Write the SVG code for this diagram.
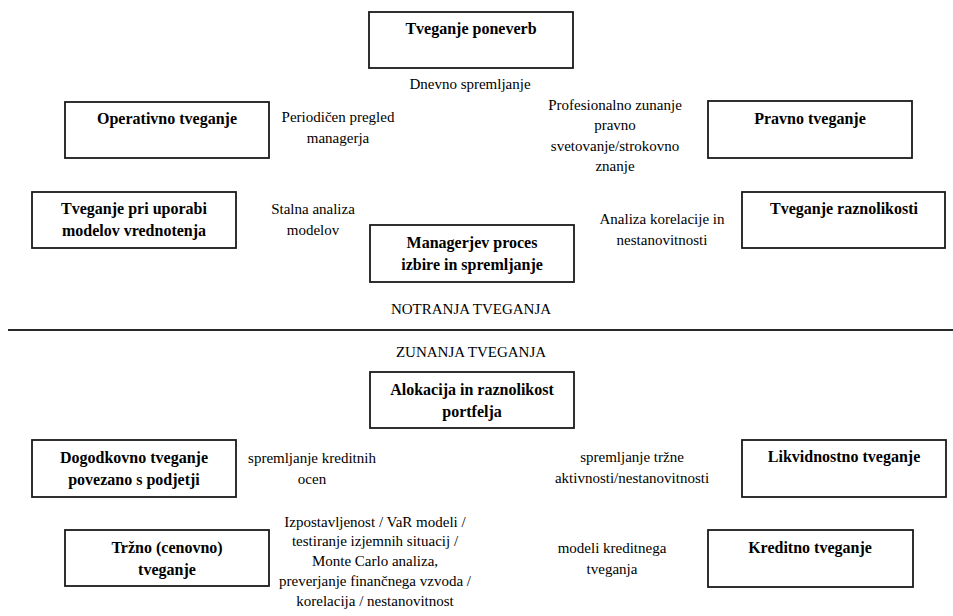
<svg xmlns="http://www.w3.org/2000/svg" width="953" height="616" viewBox="0 0 953 616" font-family="Liberation Serif, DejaVu Serif, Times New Roman, serif">
<style>
  .box{fill:#fff;stroke:#1a1a1a;stroke-width:1.8}
  .t{font-family:'Liberation Serif','DejaVu Serif','Times New Roman',serif;font-size:15px;fill:#000;text-anchor:middle}
  .b{font-weight:bold;font-size:16px}
  .h{font-size:15px}
</style>
<rect width="953" height="616" fill="#fff"/>
<g id="divider">
  <line x1="8" y1="330" x2="953" y2="330" stroke="#2a2a2a" stroke-width="2"/>
  <text class="t h" x="471" y="314">NOTRANJA TVEGANJA</text>
  <text class="t h" x="471" y="357">ZUNANJA TVEGANJA</text>
</g>
<g id="node-poneverbe">
  <rect class="box" x="369" y="12" width="204" height="56"/>
  <text class="t b" x="471" y="34">Tveganje poneverb</text>
</g>
<g id="node-operativno">
  <rect class="box" x="65" y="102" width="204" height="56"/>
  <text class="t b" x="167" y="124">Operativno tveganje</text>
</g>
<g id="node-pravno">
  <rect class="box" x="708" y="101" width="204" height="57"/>
  <text class="t b" x="810" y="124">Pravno tveganje</text>
</g>
<g id="node-modeli">
  <rect class="box" x="32" y="192" width="204" height="56"/>
  <text class="t b" x="134" y="214">Tveganje pri uporabi</text>
  <text class="t b" x="134" y="236">modelov vrednotenja</text>
</g>
<g id="node-raznolikost">
  <rect class="box" x="742" y="192" width="203" height="56"/>
  <text class="t b" x="844" y="214">Tveganje raznolikosti</text>
</g>
<g id="node-manager">
  <rect class="box" x="370" y="225" width="204" height="57"/>
  <text class="t b" x="472" y="248">Managerjev proces</text>
  <text class="t b" x="472" y="270">izbire in spremljanje</text>
</g>
<g id="node-alokacija">
  <rect class="box" x="370" y="372" width="204" height="56"/>
  <text class="t b" x="472" y="395">Alokacija in raznolikost</text>
  <text class="t b" x="472" y="417">portfelja</text>
</g>
<g id="node-dogodkovno">
  <rect class="box" x="32" y="440" width="204" height="57"/>
  <text class="t b" x="134" y="463">Dogodkovno tveganje</text>
  <text class="t b" x="134" y="485">povezano s podjetji</text>
</g>
<g id="node-likvidnostno">
  <rect class="box" x="742" y="440" width="204" height="57"/>
  <text class="t b" x="844" y="462">Likvidnostno tveganje</text>
</g>
<g id="node-trzno">
  <rect class="box" x="65" y="530" width="204" height="56"/>
  <text class="t b" x="167" y="553">Tržno (cenovno)</text>
  <text class="t b" x="167" y="575">tveganje</text>
</g>
<g id="node-kreditno">
  <rect class="box" x="708" y="530" width="205" height="57"/>
  <text class="t b" x="810" y="553">Kreditno tveganje</text>
</g>
<g id="connectors">
  <text class="t" x="470" y="89">Dnevno spremljanje</text>
  <text class="t" x="338" y="122">Periodičen pregled</text>
  <text class="t" x="338" y="143">managerja</text>
  <text class="t" x="615" y="110">Profesionalno zunanje</text>
  <text class="t" x="615" y="130">pravno</text>
  <text class="t" x="615" y="151">svetovanje/strokovno</text>
  <text class="t" x="615" y="171">znanje</text>
  <text class="t" x="313" y="214">Stalna analiza</text>
  <text class="t" x="313" y="235">modelov</text>
  <text class="t" x="662" y="224">Analiza korelacije in</text>
  <text class="t" x="662" y="245">nestanovitnosti</text>
  <text class="t" x="312" y="463">spremljanje kreditnih</text>
  <text class="t" x="312" y="484">ocen</text>
  <text class="t" x="632" y="462">spremljanje tržne</text>
  <text class="t" x="632" y="483">aktivnosti/nestanovitnosti</text>
  <text class="t" x="375" y="527">Izpostavljenost / VaR modeli /</text>
  <text class="t" x="375" y="546">testiranje izjemnih situacij /</text>
  <text class="t" x="375" y="566">Monte Carlo analiza,</text>
  <text class="t" x="375" y="586">preverjanje finančnega vzvoda /</text>
  <text class="t" x="375" y="606">korelacija / nestanovitnost</text>
  <text class="t" x="612" y="553">modeli kreditnega</text>
  <text class="t" x="612" y="574">tveganja</text>
</g>
</svg>
